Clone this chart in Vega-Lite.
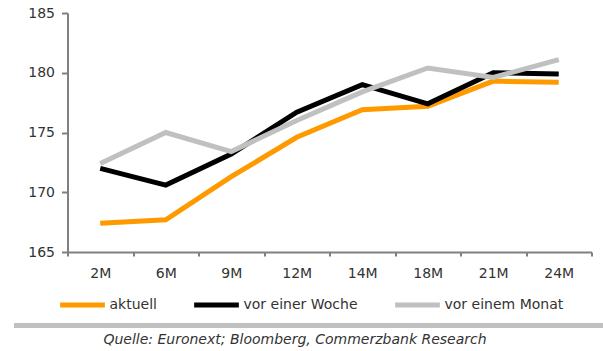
{
  "$schema": "https://vega.github.io/schema/vega-lite/v6.json",
  "background": "white",
  "padding": {"left": 14, "top": 6, "right": 0, "bottom": 0},
  "config": {
    "font": "DejaVu Sans",
    "view": {"stroke": null},
    "concat": {"spacing": 8}
  },
  "center": true,
  "resolve": {"legend": {"color": "independent"}},
  "vconcat": [
    {
      "width": 524,
      "height": 239,
      "data": {
        "values": [
          {"laufzeit": "2M", "serie": "aktuell", "wert": 167.4},
          {"laufzeit": "6M", "serie": "aktuell", "wert": 167.7},
          {"laufzeit": "9M", "serie": "aktuell", "wert": 171.3},
          {"laufzeit": "12M", "serie": "aktuell", "wert": 174.6},
          {"laufzeit": "14M", "serie": "aktuell", "wert": 176.9},
          {"laufzeit": "18M", "serie": "aktuell", "wert": 177.2},
          {"laufzeit": "21M", "serie": "aktuell", "wert": 179.3},
          {"laufzeit": "24M", "serie": "aktuell", "wert": 179.2},
          {"laufzeit": "2M", "serie": "vor einer Woche", "wert": 172.0},
          {"laufzeit": "6M", "serie": "vor einer Woche", "wert": 170.6},
          {"laufzeit": "9M", "serie": "vor einer Woche", "wert": 173.2},
          {"laufzeit": "12M", "serie": "vor einer Woche", "wert": 176.7},
          {"laufzeit": "14M", "serie": "vor einer Woche", "wert": 179.0},
          {"laufzeit": "18M", "serie": "vor einer Woche", "wert": 177.4},
          {"laufzeit": "21M", "serie": "vor einer Woche", "wert": 180.0},
          {"laufzeit": "24M", "serie": "vor einer Woche", "wert": 179.9},
          {"laufzeit": "2M", "serie": "vor einem Monat", "wert": 172.4},
          {"laufzeit": "6M", "serie": "vor einem Monat", "wert": 175.0},
          {"laufzeit": "9M", "serie": "vor einem Monat", "wert": 173.4},
          {"laufzeit": "12M", "serie": "vor einem Monat", "wert": 176.0},
          {"laufzeit": "14M", "serie": "vor einem Monat", "wert": 178.4},
          {"laufzeit": "18M", "serie": "vor einem Monat", "wert": 180.4},
          {"laufzeit": "21M", "serie": "vor einem Monat", "wert": 179.6},
          {"laufzeit": "24M", "serie": "vor einem Monat", "wert": 181.1}
        ]
      },
      "mark": {"type": "line", "strokeWidth": 5},
      "encoding": {
        "x": {
          "field": "laufzeit",
          "type": "ordinal",
          "sort": ["2M", "6M", "9M", "12M", "14M", "18M", "21M", "24M"],
          "scale": {"type": "band", "paddingInner": 0, "paddingOuter": 0},
          "axis": {
            "title": null,
            "labelAngle": 0,
            "tickBand": "extent",
            "tickSize": 4,
            "tickWidth": 2,
            "tickColor": "#808080",
            "domainColor": "#808080",
            "domainWidth": 2,
            "labelFontSize": 14,
            "labelColor": "#333333",
            "labelPadding": 10
          }
        },
        "y": {
          "field": "wert",
          "type": "quantitative",
          "scale": {"domain": [165, 185], "nice": false, "zero": false},
          "axis": {
            "title": null,
            "values": [165, 170, 175, 180, 185],
            "grid": false,
            "tickSize": 6,
            "tickWidth": 2,
            "tickColor": "#808080",
            "domainColor": "#808080",
            "domainWidth": 2,
            "labelFontSize": 14,
            "labelColor": "#333333",
            "labelPadding": 7
          }
        },
        "color": {
          "field": "serie",
          "type": "nominal",
          "sort": ["aktuell", "vor einer Woche", "vor einem Monat"],
          "scale": {
            "domain": ["aktuell", "vor einer Woche", "vor einem Monat"],
            "range": ["#FF9900", "#000000", "#C0C0C0"]
          },
          "legend": {
            "title": null,
            "orient": "none",
            "legendX": -10,
            "legendY": 267,
            "direction": "horizontal",
            "symbolType": "stroke",
            "symbolSize": 2000,
            "symbolStrokeWidth": 5,
            "labelFontSize": 14,
            "labelColor": "#333333",
            "labelOffset": 2,
            "columnPadding": 26
          }
        }
      }
    },
    {
      "width": 626,
      "height": 1,
      "view": {"stroke": "#C0C0C0", "strokeWidth": 4},
      "data": {
        "values": [
          {"quelle": "Quelle: Euronext; Bloomberg, Commerzbank Research"}
        ]
      },
      "mark": {
        "type": "text",
        "fontStyle": "italic",
        "fontSize": 14,
        "baseline": "top",
        "dy": 7,
        "dx": -34,
        "color": "#333333"
      },
      "encoding": {"text": {"field": "quelle"}}
    }
  ]
}
